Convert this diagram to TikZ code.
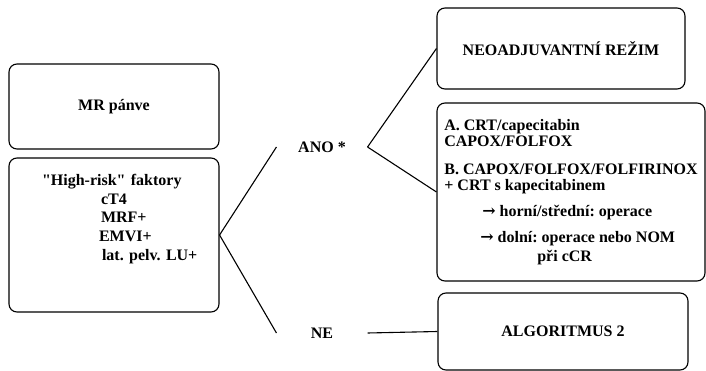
\documentclass[tikz,border=0pt]{standalone}
\usepackage{fontspec}
\setmainfont{Liberation Serif}[Ligatures=TeXOff]
\newfontfamily\sipka{DejaVu Serif}
\frenchspacing

\begin{document}
\begin{tikzpicture}[x=1pt, y=-1pt, line width=1.1pt]
	\tikzstyle{krok} = [draw, rounded corners=8pt, font=\fontsize{16}{16}\selectfont\bfseries, inner sep=0pt]
	\tikzstyle{vetev} = [font=\fontsize{16}{16}\selectfont\bfseries, minimum width=90pt, inner sep=0pt]
	\useasboundingbox (0,0) rectangle (706,371);

	% Define nodes
	\node[krok, minimum width=210pt, minimum height=85pt] (MR) at (114,106.5) {MR pánve};
	\node[krok, minimum width=210pt, minimum height=154pt] (Risk) at (114,235) {};
	\node[font=\fontsize{16}{18.8}\selectfont\bfseries, align=left, text width=170pt, inner sep=0pt] (RiskText) at (127,219)
		{"High-risk" faktory\\ \hspace*{59pt}cT4\\ \hspace*{59pt}MRF+\\ \hspace*{57pt}EMVI+\\ \hspace*{60pt}lat. pelv. LU+};
	\node[vetev] (ANO) at (322,147) {ANO *};
	\node[vetev] (NE) at (322,333) {NE};
	\node[krok, minimum width=248pt, minimum height=81pt] (Neo) at (561,48.5) {NEOADJUVANTNÍ REŽIM};
	\node[krok, minimum width=268pt, minimum height=178pt, align=left] (Terapie) at (571,192)
		{A. CRT/capecitabin\\ CAPOX/FOLFOX\\[12pt]
		 B. CAPOX/FOLFOX/FOLFIRINOX\\ + CRT s kapecitabinem\\[10pt]
		 \hspace*{38pt}{\sipka →} horní/střední: operace\\[10pt]
		 \hspace*{36pt}{\sipka →} dolní: operace nebo NOM\\[3pt]
		 \hspace*{93pt}při cCR};
	\node[krok, minimum width=250pt, minimum height=77pt] (Alg) at (563,331.5) {ALGORITMUS 2};

	% Draw edges
	\draw (Risk.east) -- (ANO.west);
	\draw (Risk.east) -- (NE.west);
	\draw (ANO.east) -- (Neo.west);
	\draw (ANO.east) -- (Terapie.west);
	\draw (NE.east) -- (Alg.west);

\end{tikzpicture}
\end{document}
